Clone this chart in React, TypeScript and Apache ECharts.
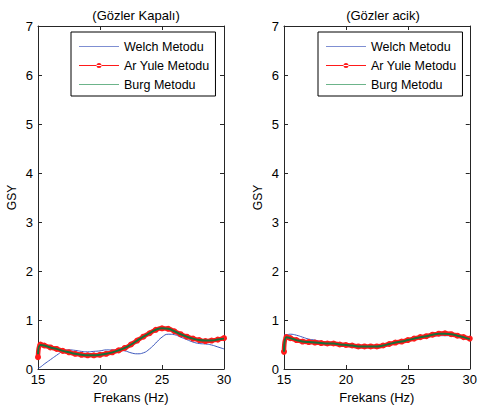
import React, { useEffect, useRef } from 'react';
import * as echarts from 'echarts';

const freq = [15, 15.2, 15.5, 16, 16.5, 17, 17.5, 18, 18.5, 19, 19.5, 20, 20.5, 21, 21.5, 22, 22.5, 23, 23.5, 24, 24.5, 25, 25.5, 26, 26.5, 27, 27.5, 28, 28.5, 29, 29.5, 30];

const welchClosed = [0.02, 0.04, 0.10, 0.19, 0.28, 0.36, 0.39, 0.38, 0.36, 0.35, 0.36, 0.37, 0.39, 0.39, 0.38, 0.37, 0.33, 0.31, 0.33, 0.41, 0.53, 0.65, 0.71, 0.70, 0.65, 0.60, 0.55, 0.52, 0.51, 0.49, 0.45, 0.41];
const arYuleClosed = [0.24, 0.50, 0.48, 0.44, 0.41, 0.37, 0.34, 0.31, 0.29, 0.28, 0.28, 0.29, 0.31, 0.34, 0.38, 0.43, 0.50, 0.58, 0.66, 0.73, 0.80, 0.83, 0.82, 0.77, 0.71, 0.66, 0.62, 0.59, 0.57, 0.58, 0.60, 0.63];
const burgClosed = [0.30, 0.49, 0.48, 0.44, 0.41, 0.37, 0.34, 0.31, 0.29, 0.28, 0.28, 0.29, 0.31, 0.34, 0.38, 0.43, 0.50, 0.58, 0.66, 0.73, 0.80, 0.83, 0.82, 0.77, 0.71, 0.66, 0.62, 0.59, 0.58, 0.58, 0.60, 0.62];

const welchOpen = [0.70, 0.70, 0.71, 0.69, 0.65, 0.61, 0.59, 0.56, 0.55, 0.54, 0.52, 0.50, 0.48, 0.47, 0.46, 0.46, 0.48, 0.50, 0.53, 0.55, 0.57, 0.59, 0.61, 0.64, 0.65, 0.67, 0.68, 0.68, 0.68, 0.67, 0.65, 0.62];
const arYuleOpen = [0.35, 0.65, 0.63, 0.59, 0.56, 0.55, 0.54, 0.53, 0.52, 0.52, 0.50, 0.49, 0.48, 0.46, 0.46, 0.46, 0.46, 0.48, 0.51, 0.54, 0.56, 0.59, 0.62, 0.65, 0.67, 0.70, 0.72, 0.73, 0.71, 0.68, 0.65, 0.62];
const burgOpen = [0.35, 0.65, 0.63, 0.59, 0.56, 0.55, 0.54, 0.53, 0.52, 0.52, 0.50, 0.49, 0.48, 0.46, 0.46, 0.46, 0.46, 0.48, 0.51, 0.54, 0.56, 0.59, 0.62, 0.65, 0.67, 0.70, 0.72, 0.72, 0.71, 0.68, 0.65, 0.61];

const titles = ['(Gözler Kapalı)', '(Gözler acik)'];
const legendNames = ['Welch Metodu', 'Ar Yule Metodu', 'Burg Metodu'];
const xTicks = [15, 20, 25, 30];
const yMax = 7;

const FONT = 'Liberation Sans, Arial, sans-serif';
const AXIS_COLOR = '#262626';
const WELCH_COLOR = '#3d58bd';
const AR_COLOR = '#ff1a1a';
const BURG_COLOR = '#17703a';

const LINE_ICON = 'path://M0,0.5L40,0.5L40,1.5L0,1.5Z';
const LINE_DOT_ICON = 'path://M0,2.5L40,2.5L40,3.5L0,3.5Z M22.5,3A2.5,2.5,0,1,0,17.5,3A2.5,2.5,0,1,0,22.5,3Z';

const pair = (ys: number[]) => freq.map((f, i) => [f, ys[i]]);

export default function App() {
  const ref = useRef<HTMLDivElement>(null);

  useEffect(() => {
    if (!ref.current) return;
    const chart = echarts.init(ref.current, undefined, { renderer: 'svg' });

    const grids = [
      { left: 38, top: 26, width: 186, height: 343 },
      { left: 284, top: 26, width: 188, height: 343 },
    ];

    const mainX = (gi: number) => ({
      type: 'value',
      gridIndex: gi,
      min: xTicks[0],
      max: xTicks[xTicks.length - 1],
      interval: 5,
      position: 'bottom',
      name: 'Frekans (Hz)',
      nameLocation: 'middle',
      nameGap: 22,
      nameTextStyle: { fontFamily: FONT, fontSize: 13, color: '#000' },
      axisLine: { show: true, onZero: false, lineStyle: { color: AXIS_COLOR, width: 1 } },
      axisTick: { show: true, inside: true, length: 4, lineStyle: { color: AXIS_COLOR } },
      axisLabel: { fontFamily: FONT, fontSize: 13, color: '#000', margin: 4 },
      splitLine: { show: false },
    });
    const topX = (gi: number) => ({
      type: 'value',
      gridIndex: gi,
      min: xTicks[0],
      max: xTicks[xTicks.length - 1],
      interval: 5,
      position: 'top',
      axisLine: { show: true, onZero: false, lineStyle: { color: AXIS_COLOR, width: 1 } },
      axisTick: { show: true, inside: true, length: 4, lineStyle: { color: AXIS_COLOR } },
      axisLabel: { show: false },
      splitLine: { show: false },
    });
    const mainY = (gi: number) => ({
      type: 'value',
      gridIndex: gi,
      min: 0,
      max: yMax,
      interval: 1,
      position: 'left',
      name: 'GSY',
      nameLocation: 'middle',
      nameGap: 20,
      nameTextStyle: { fontFamily: FONT, fontSize: 12, color: '#000' },
      axisLine: { show: true, onZero: false, lineStyle: { color: AXIS_COLOR, width: 1 } },
      axisTick: { show: true, inside: true, length: 4, lineStyle: { color: AXIS_COLOR } },
      axisLabel: { fontFamily: FONT, fontSize: 13, color: '#000', margin: 5 },
      splitLine: { show: false },
    });
    const rightY = (gi: number) => ({
      type: 'value',
      gridIndex: gi,
      min: 0,
      max: yMax,
      interval: 1,
      position: 'right',
      axisLine: { show: true, onZero: false, lineStyle: { color: AXIS_COLOR, width: 1 } },
      axisTick: { show: true, inside: true, length: 4, lineStyle: { color: AXIS_COLOR } },
      axisLabel: { show: false },
      splitLine: { show: false },
    });

    const makeSeries = (gi: number, welch: number[], ar: number[], burg: number[]) => [
      {
        name: legendNames[0],
        type: 'line',
        xAxisIndex: gi,
        yAxisIndex: gi,
        data: pair(welch),
        symbol: 'none',
        smooth: true,
        z: 2,
        lineStyle: { color: WELCH_COLOR, width: 1 },
        itemStyle: { color: WELCH_COLOR },
      },
      {
        name: legendNames[1],
        type: 'line',
        xAxisIndex: gi,
        yAxisIndex: gi,
        data: pair(ar),
        symbol: 'circle',
        symbolSize: 6,
        showSymbol: true,
        smooth: true,
        z: 3,
        lineStyle: { color: AR_COLOR, width: 4.5 },
        itemStyle: { color: AR_COLOR },
      },
      {
        name: legendNames[2],
        type: 'line',
        xAxisIndex: gi,
        yAxisIndex: gi,
        data: pair(burg),
        symbol: 'none',
        smooth: true,
        z: 5,
        lineStyle: { color: BURG_COLOR, width: 2 },
        itemStyle: { color: BURG_COLOR },
      },
    ];

    const legend = (left: number) => ({
      data: [
        { name: legendNames[0], icon: LINE_ICON, itemStyle: { color: '#7f8fd2' } },
        { name: legendNames[1], icon: LINE_DOT_ICON, itemStyle: { color: AR_COLOR } },
        { name: legendNames[2], icon: LINE_ICON, itemStyle: { color: '#6cb48a' } },
      ],
      orient: 'vertical',
      left,
      top: 32,
      itemWidth: 40,
      itemHeight: 12,
      itemGap: 6,
      padding: [8, 6, 5, 8],
      borderColor: '#000',
      borderWidth: 1,
      backgroundColor: '#fff',
      selectedMode: false,
      textStyle: { fontFamily: FONT, fontSize: 12.5, color: '#000' },
    });

    chart.setOption({
      animation: false,
      backgroundColor: '#fff',
      title: [
        { text: titles[0], left: 131, top: 4, textAlign: 'center', textStyle: { fontFamily: FONT, fontSize: 13, fontWeight: 'normal', color: '#000' } },
        { text: titles[1], left: 378, top: 4, textAlign: 'center', textStyle: { fontFamily: FONT, fontSize: 13, fontWeight: 'normal', color: '#000' } },
      ],
      legend: [legend(71), legend(318)],
      grid: grids,
      xAxis: [mainX(0), mainX(1), topX(0), topX(1)],
      yAxis: [mainY(0), mainY(1), rightY(0), rightY(1)],
      series: [
        ...makeSeries(0, welchClosed, arYuleClosed, burgClosed),
        ...makeSeries(1, welchOpen, arYuleOpen, burgOpen),
      ],
    });

    return () => chart.dispose();
  }, []);

  return (
    <div
      ref={ref}
      style={{ position: 'fixed', left: 0, top: 0, width: 480, height: 410, background: '#fff' }}
    />
  );
}
